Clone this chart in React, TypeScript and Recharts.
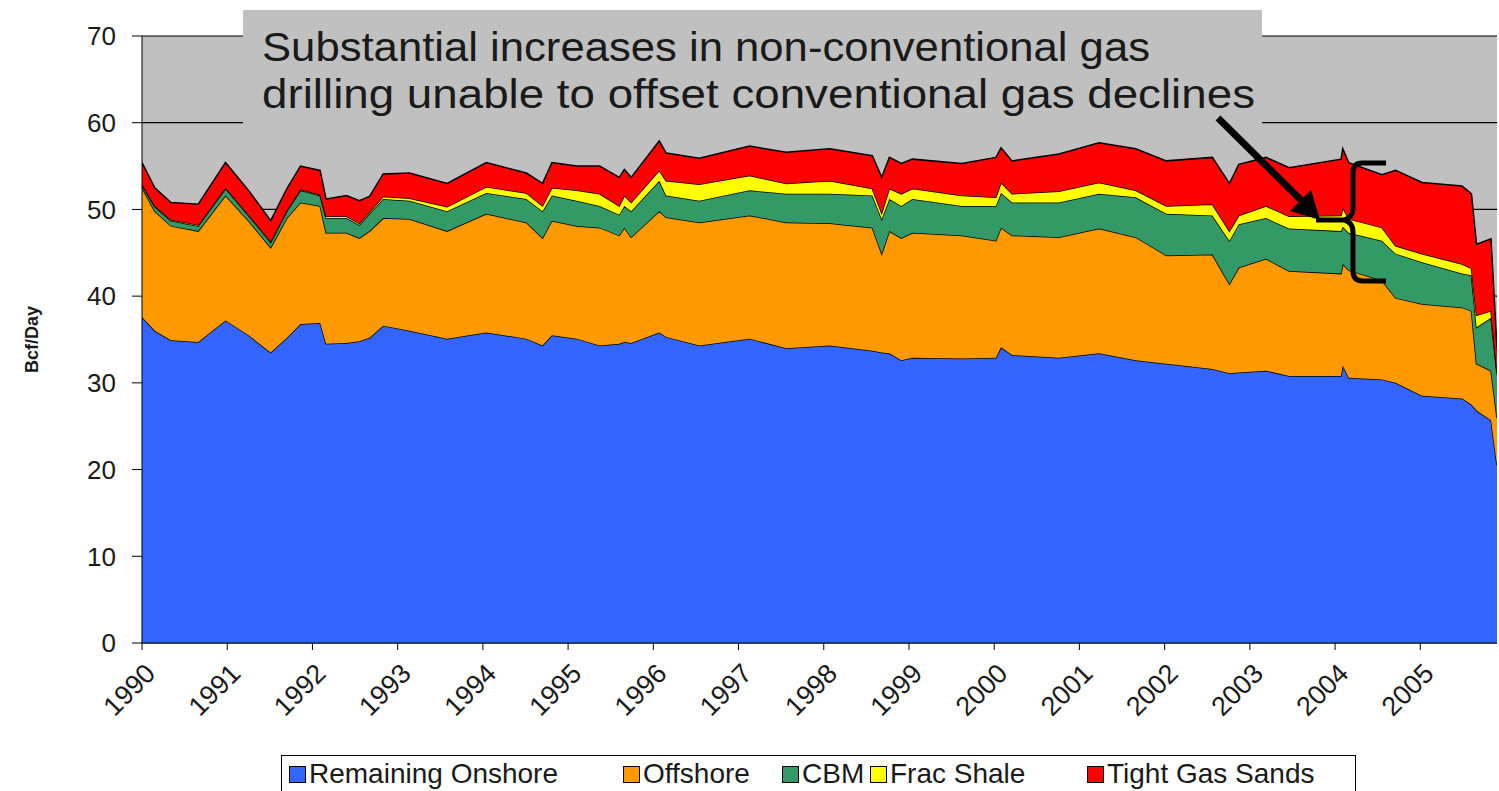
import { AreaChart, Area, XAxis, YAxis, CartesianGrid } from "recharts";

const FONT = "'Liberation Sans', Arial, sans-serif";

// time in decimal years
const years = [
  1990.0, 1990.15, 1990.34, 1990.66, 1990.98, 1991.25, 1991.51, 1991.7, 1991.86, 1992.09,
  1992.16, 1992.4, 1992.55, 1992.67, 1992.83, 1993.14, 1993.58, 1994.04, 1994.51, 1994.7,
  1994.81, 1995.1, 1995.37, 1995.6, 1995.66, 1995.74, 1996.07, 1996.15, 1996.54, 1997.13,
  1997.56, 1998.07, 1998.57, 1998.68, 1998.77, 1998.91, 1999.04, 1999.62, 2000.02, 2000.08,
  2000.21, 2000.76, 2001.23, 2001.66, 2002.02, 2002.56, 2002.76, 2002.87, 2003.19, 2003.46,
  2004.07, 2004.09, 2004.16, 2004.55, 2004.71, 2005.02, 2005.49, 2005.6, 2005.66, 2005.83,
  2005.9,
];

const onshore = [
  37.6, 36.0, 34.9, 34.7, 37.2, 35.5, 33.5, 35.2, 36.8, 36.9,
  34.5, 34.6, 34.8, 35.2, 36.6, 36.0, 35.1, 35.8, 35.1, 34.3,
  35.5, 35.1, 34.3, 34.5, 34.7, 34.6, 35.8, 35.3, 34.3, 35.1,
  34.0, 34.3, 33.7, 33.5, 33.4, 32.6, 32.9, 32.8, 32.9, 34.1,
  33.2, 32.9, 33.4, 32.6, 32.2, 31.6, 31.1, 31.2, 31.4, 30.8,
  30.8, 32.0, 30.6, 30.4, 30.0, 28.5, 28.2, 27.5, 26.8, 25.7,
  20.5,
];

const offshore = [
  14.9, 13.8, 13.2, 12.8, 14.4, 13.2, 12.1, 13.8, 14.0, 13.5,
  12.8, 12.7, 11.9, 12.3, 12.4, 12.9, 12.4, 13.7, 13.4, 12.4,
  13.2, 13.0, 13.6, 12.5, 13.2, 12.2, 14.0, 13.8, 14.2, 14.2,
  14.5, 14.1, 14.2, 11.4, 14.1, 14.1, 14.4, 14.2, 13.5, 13.8,
  13.8, 13.9, 14.4, 14.2, 12.5, 13.2, 10.3, 12.1, 12.9, 12.1,
  11.8, 11.7, 12.4, 11.4, 9.8, 10.6, 10.5, 10.8, 5.4, 5.7,
  5.5,
];

const cbm = [
  0.3, 0.5, 0.6, 0.6, 0.8, 0.6, 0.6, 0.8, 1.4, 1.2,
  1.7, 1.7, 1.5, 2.0, 2.2, 2.1, 2.3, 2.4, 2.7, 3.1,
  2.9, 2.9, 2.5, 2.4, 2.5, 3.0, 3.5, 2.5, 2.5, 2.9,
  3.3, 3.4, 3.7, 4.0, 3.7, 3.7, 3.9, 3.4, 4.0, 4.0,
  3.8, 4.0, 4.0, 4.6, 4.8, 4.5, 5.0, 5.0, 4.7, 4.9,
  4.9, 4.3, 4.3, 4.6, 5.1, 4.8, 3.9, 4.1, 4.2, 6.1,
  5.0,
];

const fracShale = [
  0.1, 0.1, 0.1, 0.1, 0.1, 0.1, 0.1, 0.1, 0.1, 0.1,
  0.2, 0.2, 0.2, 0.2, 0.3, 0.3, 0.5, 0.7, 0.7, 0.6,
  0.9, 1.2, 1.4, 1.0, 1.2, 1.0, 1.2, 1.7, 1.9, 1.7,
  1.2, 1.5, 0.8, 0.7, 1.2, 1.4, 1.2, 1.2, 1.0, 1.2,
  1.0, 1.3, 1.3, 0.8, 0.9, 1.3, 1.1, 1.0, 1.4, 1.4,
  1.8, 2.2, 1.6, 1.5, 0.9, 1.0, 1.1, 0.8, 1.4, 0.8,
  0.3,
];

const tightGas = [
  2.5, 2.1, 2.0, 2.4, 2.9, 2.8, 2.4, 2.5, 2.7, 2.8,
  2.0, 2.4, 2.6, 1.8, 2.6, 2.9, 2.7, 2.8, 2.3, 2.6,
  2.9, 2.8, 3.2, 3.3, 3.0, 2.9, 3.4, 3.2, 3.0, 3.4,
  3.6, 3.7, 3.8, 4.1, 3.6, 3.5, 3.4, 3.7, 4.6, 4.0,
  3.8, 4.3, 4.6, 4.8, 5.2, 5.4, 5.5, 5.9, 5.6, 5.6,
  6.5, 6.8, 6.5, 6.1, 8.7, 8.2, 9.0, 8.6, 8.2, 8.3,
  2.7,
];

const yearTicks = [
  1990, 1991, 1992, 1993, 1994, 1995, 1996, 1997, 1998, 1999, 2000, 2001, 2002, 2003, 2004, 2005,
];
const valueTicks = [0, 10, 20, 30, 40, 50, 60, 70];

const series = [
  { key: "onshore", name: "Remaining Onshore", color: "#3366FF" },
  { key: "offshore", name: "Offshore", color: "#FF9900" },
  { key: "cbm", name: "CBM", color: "#339966" },
  { key: "fracShale", name: "Frac Shale", color: "#FFFF00" },
  { key: "tightGas", name: "Tight Gas Sands", color: "#FF0000" },
];

const data = years.map((t, i) => ({
  t,
  onshore: onshore[i],
  offshore: offshore[i],
  cbm: cbm[i],
  fracShale: fracShale[i],
  tightGas: tightGas[i],
}));

const YearTick = ({ x, y, payload }: any) => {
  const px = x + 15;
  const py = y + 23;
  return (
    <text
      x={px}
      y={py}
      transform={`rotate(-45 ${px} ${py})`}
      textAnchor="end"
      fontSize={27}
      fill="#1a1a1a"
      fontFamily={FONT}
    >
      {payload.value}
    </text>
  );
};

const AxisTitle = ({ viewBox }: any) => {
  const cx = viewBox.x + 32;
  const cy = viewBox.y + viewBox.height / 2;
  return (
    <text
      x={cx}
      y={cy}
      transform={`rotate(-90 ${cx} ${cy})`}
      textAnchor="middle"
      dominantBaseline="central"
      fontSize={18}
      fontWeight="bold"
      fill="#1a1a1a"
      fontFamily={FONT}
    >
      Bcf/Day
    </text>
  );
};

// legend item left edges
const legendX = [289, 623, 782, 870, 1087];

export default function App() {
  return (
    <div style={{ position: "absolute", left: 0, top: 0, width: 1499, height: 791, background: "#fff", overflow: "hidden" }}>
      <AreaChart width={1499} height={791} data={data} margin={{ top: 36, right: 2, bottom: 0, left: 0 }}>
        <CartesianGrid vertical={false} stroke="#000" strokeWidth={1.2} fill="#C0C0C0" fillOpacity={1} />
        <XAxis
          dataKey="t"
          type="number"
          domain={[1990, 2005.9]}
          ticks={yearTicks}
          interval={0}
          height={148}
          stroke="#000"
          tickSize={7}
          tick={<YearTick />}
          allowDataOverflow
        />
        <YAxis
          domain={[0, 70]}
          ticks={valueTicks}
          width={142}
          stroke="#000"
          tickSize={10}
          tickMargin={16}
          tick={{ fontSize: 26, fill: "#1a1a1a", fontFamily: FONT }}
          label={<AxisTitle />}
        />
        {series.map((s) => (
          <Area
            key={s.key}
            type="linear"
            dataKey={s.key}
            name={s.name}
            stackId="gas"
            stroke="#000"
            strokeWidth={1.5}
            fill={s.color}
            fillOpacity={1}
            isAnimationActive={false}
          />
        ))}
      </AreaChart>

      <svg width={1499} height={791} style={{ position: "absolute", left: 0, top: 0, pointerEvents: "none" }}>
        <rect x={243} y={10} width={1019} height={116} fill="#C0C0C0" />
        <text x={262} y={61} fontSize={41} textLength={888} lengthAdjust="spacingAndGlyphs" fill="#1a1a1a" fontFamily={FONT}>
          Substantial increases in non-conventional gas
        </text>
        <text x={262} y={108} fontSize={41} textLength={993} lengthAdjust="spacingAndGlyphs" fill="#1a1a1a" fontFamily={FONT}>
          drilling unable to offset conventional gas declines
        </text>
        <line x1={1218} y1={118} x2={1305} y2={204} stroke="#000" strokeWidth={7} />
        <polygon points="1320,220 1290,211 1311,190" fill="#000" />
        <line x1={1316} y1={220} x2={1348} y2={220} stroke="#000" strokeWidth={5} />
        <path
          d="M1386,163 L1362,163 Q1353,163 1353,173 L1353,208 Q1353,218 1344,220 Q1353,222 1353,232 L1353,271 Q1353,281 1363,281 L1386,281"
          fill="none"
          stroke="#000"
          strokeWidth={5}
        />
      </svg>

      <div
        style={{
          position: "absolute",
          left: 281,
          top: 755,
          width: 1073,
          height: 44,
          border: "1.5px solid #000",
          background: "#fff",
          fontFamily: FONT,
        }}
      >
        {series.map((s, i) => (
          <div key={s.key} style={{ position: "absolute", left: legendX[i] - 282, top: 2, display: "flex", alignItems: "center", whiteSpace: "nowrap" }}>
            <span style={{ display: "inline-block", width: 15, height: 15, background: s.color, border: "1.5px solid #000", marginRight: 3 }} />
            <span style={{ fontSize: 28, color: "#1a1a1a" }}>{s.name}</span>
          </div>
        ))}
      </div>
    </div>
  );
}
